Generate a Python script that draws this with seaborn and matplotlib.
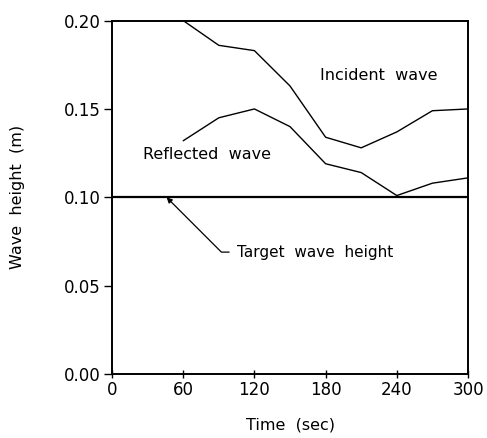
import matplotlib

matplotlib.use("Agg")

import matplotlib.pyplot as plt
import pandas as pd
import seaborn as sns

# data
time_s = [60, 90, 120, 150, 180, 210, 240, 270, 300]
incident_h = [0.200, 0.186, 0.183, 0.163, 0.134, 0.128, 0.137, 0.149, 0.150]
reflected_h = [0.132, 0.145, 0.150, 0.140, 0.119, 0.114, 0.101, 0.108, 0.111]
target_time = [0, 300]
target_h = [0.10, 0.10]
x_ticks = [0, 60, 120, 180, 240, 300]
y_ticks = [0.00, 0.05, 0.10, 0.15, 0.20]

sns.set_theme(style="ticks")
plt.rcParams["font.family"] = ["DejaVu Sans"]
plt.rcParams["text.color"] = "black"
plt.rcParams["axes.labelcolor"] = "black"
plt.rcParams["xtick.color"] = "black"
plt.rcParams["ytick.color"] = "black"

df = pd.concat([
    pd.DataFrame({"t": time_s, "h": incident_h, "series": "Incident wave"}),
    pd.DataFrame({"t": time_s, "h": reflected_h, "series": "Reflected wave"}),
    pd.DataFrame({"t": target_time, "h": target_h, "series": "Target wave height"}),
])

fig = plt.figure(figsize=(4.87, 4.38), dpi=100)
ax = fig.add_axes([0.23, 0.146, 0.731, 0.807])

sns.lineplot(data=df, x="t", y="h", units="series", estimator=None,
             color="black", linewidth=1.0, ax=ax, legend=False)
ax.lines[-1].set_linewidth(1.6)

ax.set_xlim(0, 300)
ax.set_ylim(0, 0.20)
ax.set_xticks(x_ticks)
ax.set_yticks(y_ticks)
ax.set_yticklabels([f"{v:.2f}" for v in y_ticks])
ax.tick_params(axis="x", direction="inout", length=6, width=1, labelsize=12, pad=2)
ax.tick_params(axis="y", direction="out", length=6, width=1, labelsize=12, pad=2)
for s in ax.spines.values():
    s.set_linewidth(1.4)
    s.set_color("black")

ax.set_xlabel("Time  (sec)", fontsize=11.5, labelpad=13)
ax.set_ylabel("Wave  height  (m)", fontsize=11.5, labelpad=28)

ax.text(175, 0.169, "Incident  wave", fontsize=11.5, va="center")
ax.text(26, 0.124, "Reflected  wave", fontsize=11.5, va="center")
ax.annotate("Target  wave  height", xy=(46, 0.10), xytext=(105, 0.069),
            fontsize=11, va="center",
            arrowprops=dict(arrowstyle="-|>", color="black", lw=0.9,
                            connectionstyle="angle,angleA=0,angleB=-45,rad=0",
                            shrinkA=3, shrinkB=0, mutation_scale=8))

plt.savefig("out.png", dpi=100)
plt.close(fig)
